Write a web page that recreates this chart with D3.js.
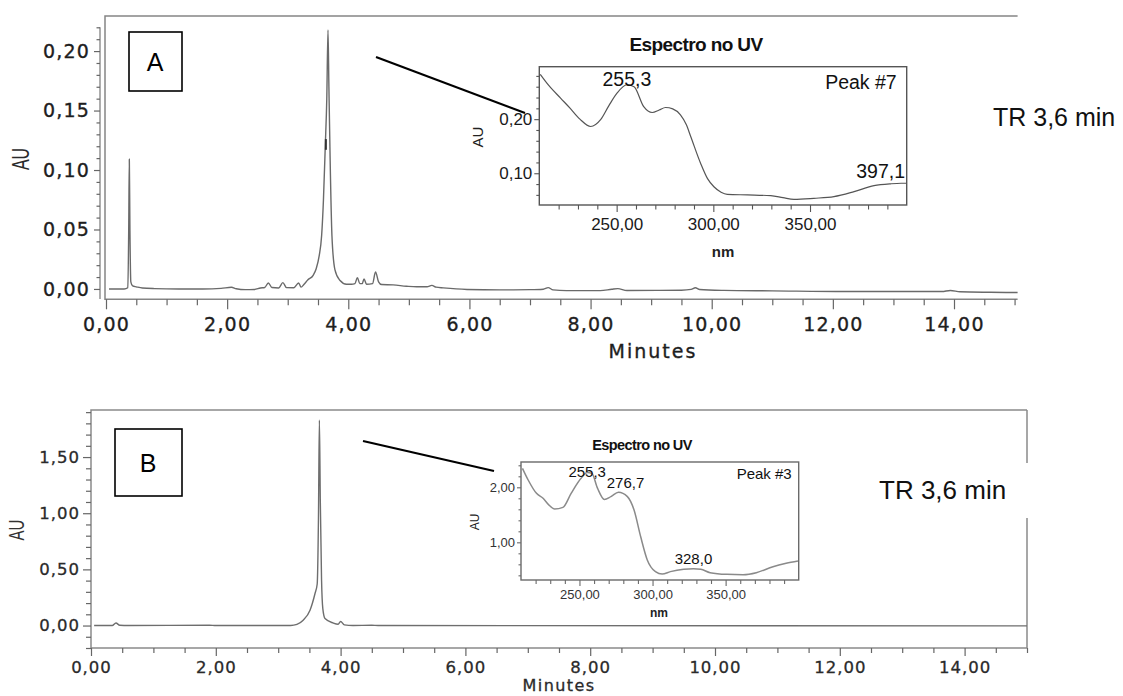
<!DOCTYPE html>
<html>
<head>
<meta charset="utf-8">
<script src="https://cdn.jsdelivr.net/npm/d3@7"></script>
<style>
  body { margin: 0; background: #fff; }
  svg { display: block; }
</style>
</head>
<body>
<svg id="fig" width="1123" height="696"></svg>
<script>
// ---------- data ----------
// Chromatogram A: retention time (min) and absorbance (AU)
const chromA_time = [0.05, 0.30, 0.36, 0.375, 0.385, 0.395, 0.41, 0.44, 0.5, 0.6, 0.8, 1.2, 1.6, 1.9, 2.07, 2.15, 2.3, 2.45, 2.55, 2.62, 2.68, 2.74, 2.85, 2.92, 2.98, 3.1, 3.18, 3.22, 3.27, 3.33, 3.42, 3.47, 3.52, 3.56, 3.59, 3.62, 3.645, 3.665, 3.68, 3.70, 3.73, 3.78, 3.86, 3.97, 4.05, 4.11, 4.15, 4.19, 4.23, 4.26, 4.30, 4.40, 4.45, 4.50, 4.55, 4.74, 4.96, 5.13, 5.30, 5.38, 5.45, 5.57, 5.96, 6.5, 7.0, 7.22, 7.30, 7.38, 7.6, 8.16, 8.35, 8.45, 8.6, 9.1, 9.5, 9.66, 9.73, 9.8, 10.2, 11.0, 12.2, 13.0, 13.8, 13.94, 14.1, 14.6, 15.05];
const chromA_au = [0, 0, 0.001, 0.05, 0.109, 0.05, 0.006, 0.0025, 0.0018, 0.0008, 0.0003, 0, 0, 0.0005, 0.0014, 0.0002, -0.0006, -0.0004, 0.0008, 0.0012, 0.005, 0.0012, 0.0008, 0.0053, 0.0011, 0.001, 0.005, 0.0015, 0.004, 0.0075, 0.0115, 0.017, 0.028, 0.045, 0.075, 0.12, 0.16, 0.2177, 0.17, 0.11, 0.045, 0.016, 0.0073, 0.004, 0.004, 0.0045, 0.0095, 0.0045, 0.0045, 0.0085, 0.004, 0.0045, 0.0143, 0.006, 0.0037, 0.0034, 0.0023, 0.0018, 0.0018, 0.003, 0.0015, 0.0009, -0.0004, -0.0008, -0.0006, -0.0002, 0.0011, -0.0008, -0.0014, -0.0014, -0.0002, 0.0003, -0.0013, -0.0012, -0.0011, -0.0004, 0.001, -0.0005, -0.0012, -0.0016, -0.0022, -0.0022, -0.0022, -0.0013, -0.0024, -0.0028, -0.003];
const peakMarkA = { time: 3.63, low: 0.117, high: 0.126 };

// Chromatogram B
const chromB_time = [0.05, 0.34, 0.40, 0.46, 0.6, 1.9, 2.0, 3.2, 3.30, 3.40, 3.51, 3.59, 3.625, 3.645, 3.66, 3.675, 3.695, 3.715, 3.75, 3.88, 3.96, 4.00, 4.06, 4.2, 4.5, 4.6, 15.0];
const chromB_au = [0, 0, 0.023, 0.002, 0, 0.003, 0, 0, 0.01, 0.047, 0.136, 0.285, 0.37, 0.95, 1.83, 1.10, 0.40, 0.15, 0.062, 0.023, 0.012, 0.036, 0.006, 0, 0.002, 0, -0.003];

// UV spectra (nm, AU)
const specA_nm = [210.5, 215, 221, 226, 231, 236.6, 241.7, 246, 250, 255.3, 259, 264, 268.4, 272, 275.3, 279, 283, 286, 288.3, 293.4, 297, 300.3, 304, 307.2, 317.6, 329.7, 336, 341.7, 352, 362.4, 372.8, 383.1, 391.7, 397.1, 400];
const specA_au = [0.283, 0.262, 0.239, 0.220, 0.200, 0.1864, 0.199, 0.225, 0.247, 0.2636, 0.260, 0.223, 0.2123, 0.217, 0.2216, 0.219, 0.208, 0.190, 0.168, 0.1185, 0.090, 0.075, 0.065, 0.061, 0.060, 0.0586, 0.055, 0.0518, 0.0537, 0.0568, 0.066, 0.077, 0.0805, 0.0815, 0.0815];
const specA_peaks = [255.3, 397.1];

const specB_nm = [211, 214.9, 220.6, 225.1, 229, 233, 238.7, 244.3, 251.1, 255.3, 258.4, 262.4, 267, 271.5, 276.7, 282.8, 287.3, 291.9, 296.4, 302, 306.6, 312.2, 321.3, 328.0, 333, 339.4, 350.7, 362, 371, 382.4, 391.4, 399.5];
const specB_au = [2.345, 2.133, 1.89, 1.80, 1.68, 1.606, 1.636, 1.89, 2.164, 2.267, 2.255, 1.98, 1.78, 1.83, 1.91, 1.83, 1.59, 1.10, 0.68, 0.467, 0.424, 0.467, 0.51, 0.521, 0.51, 0.448, 0.418, 0.412, 0.448, 0.557, 0.618, 0.66];
const specB_peaks = [255.3, 276.7, 328.0];

// tick values
const minuteMajor = [0, 2, 4, 6, 8, 10, 12, 14];
const auMajorA = [0, 0.05, 0.10, 0.15, 0.20];
const auMajorB = [0, 0.5, 1.0, 1.5];
const nmMajor = [250, 300, 350];
const specAuMajorA = [0.10, 0.20];
const specAuMajorB = [1.0, 2.0];

// text
const panelLetters = ["A", "B"];
const peakNames = ["Peak #7", "Peak #3"];
const spectrumTitle = "Espectro no UV";
const retentionLabel = "TR 3,6 min";

// ---------- helpers ----------
const loc = d3.formatLocale({ decimal: ",", thousands: ".", grouping: [3], currency: ["", ""] });
const f2 = loc.format(".2f");
const f1 = loc.format(".1f");
const steps = (a, b, s) => d3.range(Math.round((b - a) / s) + 1).map(i => +(a + i * s).toFixed(6));
const isMajor = (v, majors) => majors.some(m => Math.abs(m - v) < 1e-9);

const svg = d3.select("#fig");

function axis(g, orient, scale, values, majors, majorLen, minorLen, pad, fmt, font) {
  const gen = (orient === "bottom" ? d3.axisBottom : d3.axisLeft)(scale)
    .tickValues(values).tickSize(majorLen).tickPadding(pad)
    .tickFormat(v => isMajor(v, majors) ? fmt(v) : "");
  g.call(gen);
  g.select(".domain").remove();
  g.attr("font-family", null).attr("font-size", null);
  g.selectAll(".tick line").attr("stroke", font.tickColor || "#666").attr("stroke-width", font.tickWidth || 1.2);
  g.selectAll(".tick").filter(v => !isMajor(v, majors)).select("line")
    .attr(orient === "bottom" ? "y2" : "x2", orient === "bottom" ? minorLen : -minorLen);
  g.selectAll(".tick text")
    .style("font-family", font.family)
    .style("font-size", font.size + "px")
    .style("letter-spacing", (font.spacing || 0) + "px")
    .attr("fill", font.color || "#222")
    .attr("stroke", font.outline ? font.color : null)
    .attr("stroke-width", font.outline || null);
  return g;
}

// ---------- chromatogram A ----------
const xA = d3.scaleLinear().domain([0, 15.05]).range([106, 1017.6]);
const yA = d3.scaleLinear().domain([-0.0087, 0.2295]).range([299.3, 16]);

svg.append("path")
  .attr("d", `M${xA.range()[1]},${yA.range()[1]}H${xA.range()[0] - 1}V${yA.range()[0]}H${xA.range()[1]}`)
  .attr("fill", "none").attr("stroke", "#858585").attr("stroke-width", 1.5);

const mainFontA = { family: "DejaVu Sans", size: 19, spacing: 1.2, color: "#1e1e1e", outline: 0.35 };
axis(svg.append("g").attr("transform", `translate(0,${yA.range()[0]})`),
  "bottom", xA, steps(0, 15, 0.5), minuteMajor, 10, 6, 8, f2, mainFontA);

const gyA = svg.append("g").attr("transform", "translate(100,0)");
gyA.append("line").attr("y1", yA(0.22)).attr("y2", yA(-0.0085))
  .attr("stroke", "#777").attr("stroke-width", 1.2);
axis(gyA, "left", yA, steps(0, 0.22, 0.01), auMajorA, 6, 3.5, 4, f2, mainFontA);

svg.append("path")
  .datum(d3.zip(chromA_time, chromA_au))
  .attr("d", d3.line().x(d => xA(d[0])).y(d => yA(d[1])).curve(d3.curveMonotoneX))
  .attr("fill", "none").attr("stroke", "#6a6a6a").attr("stroke-width", 1.4);

svg.append("line")
  .attr("x1", xA(peakMarkA.time)).attr("x2", xA(peakMarkA.time))
  .attr("y1", yA(peakMarkA.low)).attr("y2", yA(peakMarkA.high))
  .attr("stroke", "#333").attr("stroke-width", 2);

svg.append("text").text("Minutes")
  .attr("x", 653).attr("y", 358).attr("text-anchor", "middle")
  .style("font-family", "DejaVu Sans").style("font-size", "19px").style("letter-spacing", "2px")
  .attr("fill", "#1e1e1e").attr("stroke", "#1e1e1e").attr("stroke-width", 0.35);
svg.append("text").text("AU")
  .attr("transform", "translate(29,159) rotate(-90) scale(1,1.45)")
  .attr("text-anchor", "middle")
  .style("font-family", "Liberation Sans").style("font-size", "16px").attr("fill", "#2a2a2a");

// ---------- chromatogram B ----------
const xB = d3.scaleLinear().domain([0, 15]).range([91, 1027]);
const yB = d3.scaleLinear().domain([-0.2, 1.919]).range([648, 410]);

svg.append("path")
  .attr("d", `M${xB.range()[1]},${yB.range()[1]}H${xB.range()[0]}V${yB.range()[0]}H${xB.range()[1]}V${yB.range()[1]}`)
  .attr("fill", "none").attr("stroke", "#8a8a8a").attr("stroke-width", 1.5);

const mainFontB = { family: "DejaVu Sans", size: 16.5, spacing: 1, color: "#2a2a2a", outline: 0.3 };
axis(svg.append("g").attr("transform", `translate(0,${yB.range()[0]})`),
  "bottom", xB, steps(0, 15, 0.5), minuteMajor, 8, 5, 5, f2, mainFontB);
axis(svg.append("g").attr("transform", `translate(${xB.range()[0]},0)`),
  "left", yB, steps(-0.2, 1.9, 0.1), auMajorB, 8, 5, 3, f2, mainFontB);

svg.append("path")
  .datum(d3.zip(chromB_time, chromB_au))
  .attr("d", d3.line().x(d => xB(d[0])).y(d => yB(d[1])).curve(d3.curveMonotoneX))
  .attr("fill", "none").attr("stroke", "#6e6e6e").attr("stroke-width", 1.4);

svg.append("text").text("Minutes")
  .attr("x", 559).attr("y", 691).attr("text-anchor", "middle")
  .style("font-family", "DejaVu Sans").style("font-size", "16px").style("letter-spacing", "1.4px")
  .attr("fill", "#2a2a2a").attr("stroke", "#2a2a2a").attr("stroke-width", 0.3);
svg.append("text").text("AU")
  .attr("transform", "translate(24,530) rotate(-90) scale(1,1.45)")
  .attr("text-anchor", "middle")
  .style("font-family", "Liberation Sans").style("font-size", "15px").attr("fill", "#333");

// ---------- panel letters, leader lines, retention labels ----------
const letterBoxes = [
  { x: 129, y: 32, w: 53, h: 59 },
  { x: 115, y: 429, w: 67, h: 67 }
];
letterBoxes.forEach((b, i) => {
  svg.append("rect").attr("x", b.x).attr("y", b.y).attr("width", b.w).attr("height", b.h)
    .attr("fill", "#fff").attr("stroke", "#000").attr("stroke-width", 1.6);
  svg.append("text").text(panelLetters[i])
    .attr("x", b.x + b.w / 2 - 0.5).attr("y", b.y + b.h / 2 + 9).attr("text-anchor", "middle")
    .style("font-family", "Liberation Sans").style("font-size", "25px").attr("fill", "#000");
});

const leaders = [[376, 57, 525, 113], [363, 441, 494, 471]];
leaders.forEach(l => svg.append("line")
  .attr("x1", l[0]).attr("y1", l[1]).attr("x2", l[2]).attr("y2", l[3])
  .attr("stroke", "#000").attr("stroke-width", 2.2));

svg.append("text").text(retentionLabel).attr("x", 993).attr("y", 126)
  .style("font-family", "Liberation Sans").style("font-size", "25px").attr("fill", "#111");
svg.append("rect").attr("x", 868).attr("y", 463).attr("width", 170).attr("height", 55).attr("fill", "#fff");
svg.append("text").text(retentionLabel).attr("x", 879).attr("y", 499)
  .style("font-family", "Liberation Sans").style("font-size", "26px").attr("fill", "#111");

// ---------- UV spectrum insets ----------
function spectrum(cfg) {
  const x = d3.scaleLinear().domain([210, 400]).range(cfg.xr);
  const y = d3.scaleLinear().domain(cfg.yd).range(cfg.yr);
  const g = svg.append("g");
  g.append("rect").attr("x", cfg.xr[0]).attr("y", cfg.yr[1])
    .attr("width", cfg.xr[1] - cfg.xr[0]).attr("height", cfg.yr[0] - cfg.yr[1])
    .attr("fill", "#fff").attr("stroke", cfg.frame).attr("stroke-width", 1.4);
  const tf = { family: "Liberation Sans", size: cfg.tick, color: cfg.text, tickColor: cfg.frame, tickWidth: 1.1 };
  axis(g.append("g").attr("transform", `translate(0,${cfg.yr[0]})`),
    "bottom", x, steps(220, 390, 10), nmMajor, cfg.xMaj, cfg.xMin, cfg.xPad, f2, tf);
  axis(g.append("g").attr("transform", `translate(${cfg.xr[0]},0)`),
    "left", y, cfg.yTicks, cfg.yMajor, cfg.yMaj, cfg.yMin, 2, f2, tf);

  g.append("path")
    .datum(d3.zip(cfg.nm, cfg.au))
    .attr("d", d3.line().x(d => x(d[0])).y(d => y(d[1])).curve(d3.curveMonotoneX))
    .attr("fill", "none").attr("stroke", cfg.line).attr("stroke-width", cfg.lineW);

  g.append("text").text(spectrumTitle)
    .attr("x", cfg.title[0]).attr("y", cfg.title[1]).attr("text-anchor", "middle")
    .style("font-family", "Liberation Sans").style("font-weight", "bold")
    .style("font-size", cfg.titleSize + "px").style("letter-spacing", "-0.6px").attr("fill", "#111");
  g.append("text").text("nm")
    .attr("x", cfg.nmPos[0]).attr("y", cfg.nmPos[1]).attr("text-anchor", "middle")
    .style("font-family", "Liberation Sans").style("font-weight", "bold")
    .style("font-size", cfg.axisSize + "px").attr("fill", "#222");
  g.append("text").text("AU")
    .attr("transform", `translate(${cfg.auPos[0]},${cfg.auPos[1]}) rotate(-90)`)
    .attr("text-anchor", "middle").attr("dy", "0.35em")
    .style("font-family", "Liberation Sans").style("font-size", cfg.axisSize + "px").attr("fill", "#222");
  g.append("text").text(cfg.peakName)
    .attr("x", cfg.xr[1] - cfg.peakInset).attr("y", cfg.peakY).attr("text-anchor", "end")
    .style("font-family", "Liberation Sans").style("font-size", cfg.labelSize + "px").attr("fill", "#111");

  cfg.peaks.forEach((p, i) => {
    const k = cfg.nm.findIndex(v => Math.abs(v - p) < 1e-9);
    const off = cfg.peakOff[i];
    g.append("text").text(f1(p))
      .attr("x", x(p) + off[0]).attr("y", y(cfg.au[k]) + off[1]).attr("text-anchor", off[2])
      .style("font-family", "Liberation Sans").style("font-size", cfg.labelSize + "px").attr("fill", "#111");
  });
}

spectrum({
  xr: [539.3, 906.7], yr: [205, 66.7], yd: [0.0413, 0.297],
  yTicks: steps(0.06, 0.28, 0.02), yMajor: specAuMajorA,
  nm: specA_nm, au: specA_au, peaks: specA_peaks,
  peakOff: [[0, 1, "middle"], [4, -5, "end"]],
  frame: "#555", line: "#555", lineW: 1.2, text: "#1a1a1a",
  tick: 17, xMaj: 7, xMin: 4.5, xPad: 6, yMaj: 5, yMin: 3,
  title: [696, 51], titleSize: 19, nmPos: [723, 257], axisSize: 15, auPos: [478, 137],
  peakName: peakNames[0], peakInset: 10, peakY: 89, labelSize: 19.5
});

spectrum({
  xr: [521, 798.7], yr: [580, 462], yd: [0.315, 2.46],
  yTicks: steps(0.4, 2.4, 0.2), yMajor: specAuMajorB,
  nm: specB_nm, au: specB_au, peaks: specB_peaks,
  peakOff: [[0, 4, "middle"], [7, -4, "middle"], [0, -5, "middle"]],
  frame: "#6a6a6a", line: "#8a8a8a", lineW: 1.5, text: "#333",
  tick: 13, xMaj: 6, xMin: 4, xPad: 4, yMaj: 4, yMin: 2.5,
  title: [642, 450], titleSize: 14.5, nmPos: [659, 617], axisSize: 12, auPos: [475, 522],
  peakName: peakNames[1], peakInset: 7, peakY: 479, labelSize: 15
});
</script>
</body>
</html>
